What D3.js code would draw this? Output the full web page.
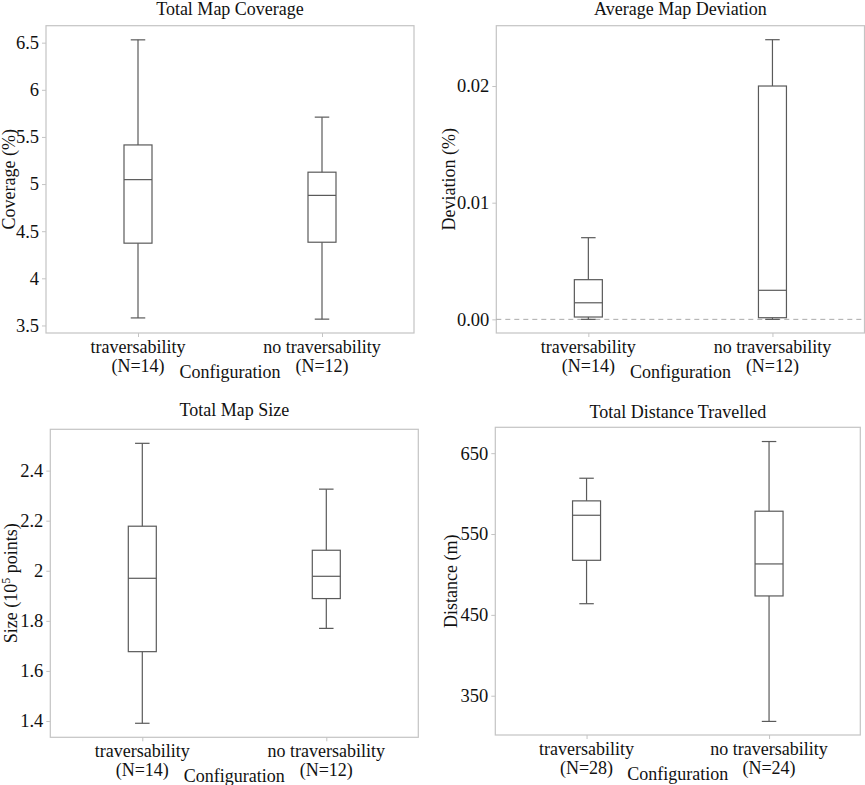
<!DOCTYPE html>
<html>
<head>
<meta charset="utf-8">
<script src="https://cdn.jsdelivr.net/npm/d3@7"></script>
<style>
  body { margin: 0; background: #fff; }
  text { font-family: "Liberation Serif", "Times New Roman", serif; fill: #111; }
</style>
</head>
<body>
<div id="graf"></div>
<script>
// Datos: [bigote inf, Q1, mediana, Q3, bigote sup]
categorias = ['traversability', 'no traversability']

coberturaN = [14, 12]
cobertura = [[3.58, 4.373, 5.047, 5.415, 6.53],
             [3.567, 4.383, 4.88, 5.126, 5.71]]
coberturaTicks = [3.5, 4, 4.5, 5, 5.5, 6, 6.5]

desviacionN = [14, 12]
desviacion = [[0.0, 0.0002, 0.00142, 0.0034, 0.0070],
              [0.0, 0.00014, 0.00249, 0.0200, 0.02397]]
desviacionTicks = [0, 0.01, 0.02]

tamanoN = [14, 12]
tamano = [[1.391, 1.677, 1.970, 2.178, 2.509],
          [1.770, 1.889, 1.978, 2.082, 2.326]]
tamanoTicks = [1.4, 1.6, 1.8, 2, 2.2, 2.4]

distanciaN = [28, 24]
distancia = [[463.8, 517.5, 573.2, 591, 619],
             [318.2, 473.4, 513, 578.2, 664.4]]
distanciaTicks = [350, 450, 550, 650]

// Configuración del canvas
ancho_total = 865
alto_total = 785

svg = d3.select('#graf').append('svg')
        .attr('width', ancho_total)
        .attr('height', alto_total)

paneles = [
  { titulo: 'Total Map Coverage', ylab: 'Coverage (%)', stats: cobertura, n: coberturaN,
    ticks: coberturaTicks, fmt: d3.format('~g'), dom: [3.42, 6.68],
    x0: 46, x1: 414, y0: 25.7, y1: 333, ylabX: 15, tituloY: 15 },
  { titulo: 'Average Map Deviation', ylab: 'Deviation (%)', stats: desviacion, n: desviacionN,
    ticks: desviacionTicks, fmt: d3.format('.2f'), dom: [-0.00117, 0.02517],
    x0: 496.3, x1: 864.5, y0: 25.7, y1: 333, ylabX: 455, tituloY: 15, ceroLinea: true },
  { titulo: 'Total Map Size', ylab: null, stats: tamano, n: tamanoN,
    ticks: tamanoTicks, fmt: d3.format('~g'), dom: [1.335, 2.565],
    x0: 50.3, x1: 418.3, y0: 429.3, y1: 737.3, ylabX: 17, tituloY: 416 },
  { titulo: 'Total Distance Travelled', ylab: 'Distance (m)', stats: distancia, n: distanciaN,
    ticks: distanciaTicks, fmt: d3.format('d'), dom: [301.4, 682],
    x0: 495.3, x1: 860.3, y0: 427.3, y1: 735, ylabX: 457, tituloY: 418 }
]

gris = '#c4c4c4'
linea = '#5a5a5a'
anchoCaja = 28
anchoTope = 14.5

paneles.forEach(p => {
  g = svg.append('g')

  x = d3.scalePoint().domain(categorias).range([p.x0, p.x1]).padding(0.5)
  y = d3.scaleLinear().domain(p.dom).range([p.y1, p.y0])

  // marco
  g.append('rect')
   .attr('x', p.x0).attr('y', p.y0)
   .attr('width', p.x1 - p.x0).attr('height', p.y1 - p.y0)
   .attr('fill', 'none').attr('stroke', gris).attr('stroke-width', 1.2)

  // eje y
  yAx = g.append('g')
         .attr('transform', `translate(${p.x0}, 0)`)
         .call(d3.axisLeft(y).tickValues(p.ticks).tickFormat(p.fmt).tickSize(4).tickPadding(3))
  yAx.select('.domain').remove()
  yAx.selectAll('line').attr('stroke', gris)
  yAx.selectAll('text').style('font-size', '18.5px').attr('fill', '#111')
     .style('font-family', '"Liberation Serif", serif')

  // eje x
  xAx = g.append('g')
         .attr('transform', `translate(0, ${p.y1})`)
         .call(d3.axisBottom(x).tickSize(4).tickFormat(''))
  xAx.select('.domain').remove()
  xAx.selectAll('line').attr('stroke', gris)

  categorias.forEach((c, i) => {
    t = g.append('text')
         .attr('text-anchor', 'middle')
         .style('font-size', '18px')
    t.append('tspan').attr('x', x(c)).attr('y', p.y1 + 20).text(c)
    t.append('tspan').attr('x', x(c)).attr('y', p.y1 + 39).text(`(N=${p.n[i]})`)
  })

  g.append('text')
   .attr('x', (p.x0 + p.x1) / 2).attr('y', p.y1 + 45)
   .attr('text-anchor', 'middle')
   .style('font-size', '18px')
   .text('Configuration')

  // título
  g.append('text')
   .attr('x', (p.x0 + p.x1) / 2).attr('y', p.tituloY)
   .attr('text-anchor', 'middle')
   .style('font-size', '18px')
   .text(p.titulo)

  // etiqueta eje y
  cy = (p.y0 + p.y1) / 2
  lab = g.append('text')
         .attr('transform', `translate(${p.ylabX}, ${cy}) rotate(-90)`)
         .attr('text-anchor', 'middle')
         .style('font-size', '18px')
  if (p.ylab) {
    lab.text(p.ylab)
  } else {
    lab.append('tspan').text('Size (10')
    lab.append('tspan').attr('dy', -7).style('font-size', '12px').text('5')
    lab.append('tspan').attr('dy', 7).text(' points)')
  }

  // línea de cero
  if (p.ceroLinea) {
    g.append('line')
     .attr('x1', p.x0).attr('x2', p.x1)
     .attr('y1', y(0)).attr('y2', y(0))
     .attr('stroke', '#aaaaaa').attr('stroke-width', 1)
     .attr('stroke-dasharray', '5,4')
  }

  // cajas
  cajas = g.selectAll('g.caja')
           .data(p.stats.map((s, i) => ({ cat: categorias[i], s: s })))
           .enter().append('g').attr('class', 'caja')

  cajas.append('line')
       .attr('x1', d => x(d.cat)).attr('x2', d => x(d.cat))
       .attr('y1', d => y(d.s[4])).attr('y2', d => y(d.s[3]))
  cajas.append('line')
       .attr('x1', d => x(d.cat)).attr('x2', d => x(d.cat))
       .attr('y1', d => y(d.s[1])).attr('y2', d => y(d.s[0]))
  cajas.append('line')
       .attr('x1', d => x(d.cat) - anchoTope / 2).attr('x2', d => x(d.cat) + anchoTope / 2)
       .attr('y1', d => y(d.s[4])).attr('y2', d => y(d.s[4]))
  cajas.append('line')
       .attr('x1', d => x(d.cat) - anchoTope / 2).attr('x2', d => x(d.cat) + anchoTope / 2)
       .attr('y1', d => y(d.s[0])).attr('y2', d => y(d.s[0]))
  cajas.append('rect')
       .attr('x', d => x(d.cat) - anchoCaja / 2)
       .attr('y', d => y(d.s[3]))
       .attr('width', anchoCaja)
       .attr('height', d => y(d.s[1]) - y(d.s[3]))
       .attr('fill', 'none')
  cajas.append('line')
       .attr('x1', d => x(d.cat) - anchoCaja / 2).attr('x2', d => x(d.cat) + anchoCaja / 2)
       .attr('y1', d => y(d.s[2])).attr('y2', d => y(d.s[2]))

  cajas.selectAll('line, rect')
       .attr('stroke', linea).attr('stroke-width', 1.2)
})
</script>
</body>
</html>
